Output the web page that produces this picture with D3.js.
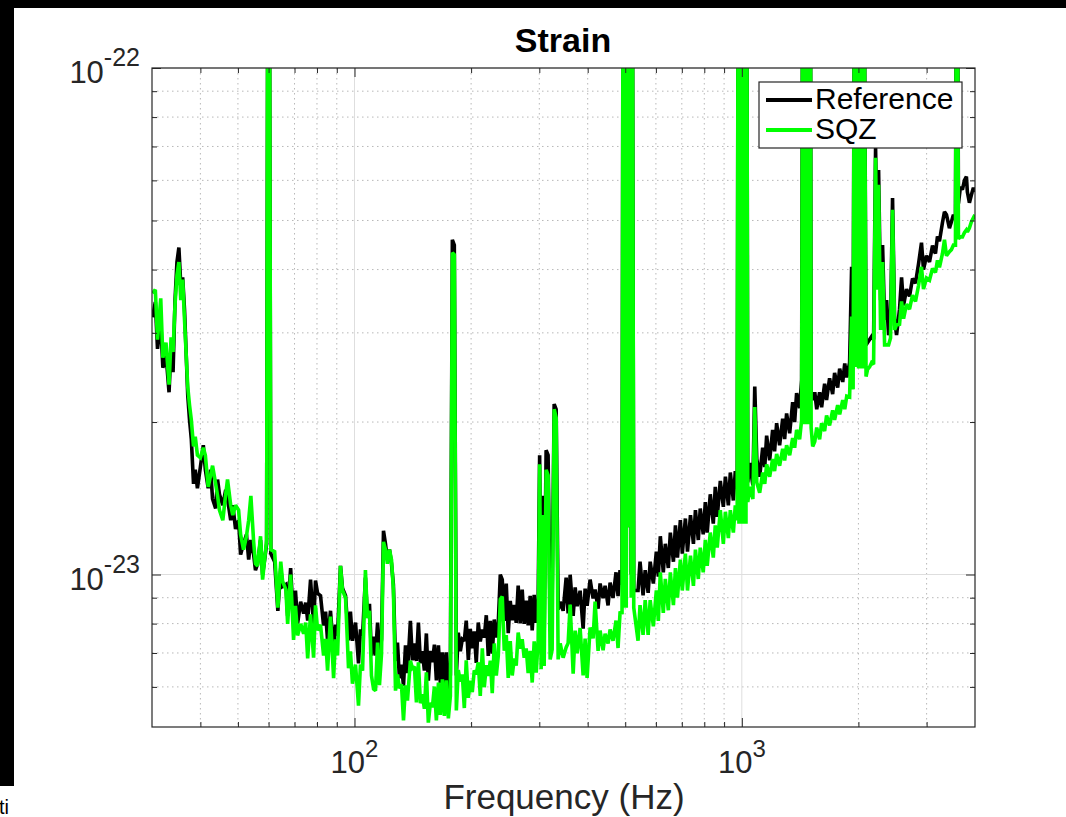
<!DOCTYPE html>
<html><head><meta charset="utf-8">
<script src="https://cdn.jsdelivr.net/npm/d3@7"></script>
<style>
body{margin:0;background:#fff}
svg{display:block}
text{font-family:"Liberation Sans",Arial,Helvetica,sans-serif}
</style>
</head><body>
<svg id="chart" width="1066" height="817"></svg>
<script>
// ---------------- DATA ----------------
// frequency in Hz
const freqHz = [
// 30-61 Hz (52)
30.1,30.6,31.0,31.6,32.0,32.6,33.2,33.6,34.0,34.4,34.8,35.2,35.6,36.0,36.4,37.1,37.5,37.9,38.4,38.8,39.3,40.0,40.7,41.2,41.9,42.5,43.0,43.8,44.3,44.8,45.7,46.5,47.0,47.9,48.5,49.3,50.2,50.8,51.7,52.6,53.3,54.0,54.9,55.5,56.2,57.2,57.9,58.6,59.3,59.8,60.2,60.8,
// 62-336 Hz (134)
62.2,63.4,64.5,65.2,66.5,67.2,68.4,69.6,70.4,71.3,
72.6,73.9,74.8,75.7,77.0,78.4,79.3,80.3,81.7,83.2,
84.2,85.2,86.7,88.3,89.3,90.4,92.0,93.1,94.8,96.5,
97.6,98.8,100.6,102.4,103.6,104.9,106.7,108.0,109.3,110.6,
112.0,113.3,114.7,116.0,117.4,118.8,120.2,121.6,123.1,124.6,
126.0,127.6,129.1,130.6,132.2,133.8,135.4,137.0,139.4,141.1,
142.8,144.5,146.2,148.0,149.7,151.5,153.3,155.1,157.0,158.9,
160.8,162.7,164.7,166.6,168.6,170.6,172.6,174.7,176.8,178.9,
181.0,183.2,185.3,187.6,189.8,192.1,194.3,196.7,199.0,201.4,
203.8,206.2,208.7,211.2,213.8,216.3,218.9,221.5,224.2,226.8,
229.5,232.3,235.1,237.9,240.7,243.6,246.5,249.4,252.4,255.4,
258.5,261.5,264.6,267.8,271.0,274.2,277.5,280.8,284.2,287.6,
291.0,294.5,298.0,300.6,303.3,306.0,308.8,312.4,316.1,320.0,
323.8,327.7,331.6,335.6,
// 340-491 Hz (26)
339.6,345.7,351.9,356.1,360.4,366.9,371.3,375.7,382.4,389.3,393.9,398.6,405.8,413.1,418.0,425.5,430.6,438.3,443.6,451.5,457.0,465.0,473.4,479.1,484.8,490.6,
// violin modes ~500 Hz (10)
494,497,500,503,506,510,515,518,521,526,
// 540-973 Hz (41)
539.6,546,556,563,573,580,591,601.6,608.7,616,627,634.6,646,653.8,665.9,673.9,682,694,702,715,724,737,750,759,772,781,795,805,814,829,844,854,864,880,896,907,923,934,951,962,973,
// ~1 kHz lines (13)
979,983,987,991,995,999,1003,1008,1012,1016,1020,1025,1029,
// 1036-1427 Hz (23)
1036,1048,1068,1080,1093,1112,1132,1146,1159,1180,1201,1215,1230,1252,1275,1290,1305,1329,1353,1369,1385,1410,1427,
// ~1.47 kHz lines (11)
1438,1446,1454,1462,1470,1478,1486,1494,1502,1510,1524,
// 1543-1938 Hz (17)
1543,1561,1588,1607,1636,1655,1685,1716,1736,1768,1789,1822,1844,1866,1898,1921,1938,
// ~2 kHz lines (14)
1958,1966,1974,1982,1990,2002,2014,2022,2030,2038,2046,2054,2062,2093,
// 2112-3998 Hz (50)
2112,2138,2163,2189,2215,2235,2255,2282,2309,2337,
2365,2393,2421,2450,2480,2509,2554,2585,2616,2662,
2710,2759,2808,2859,2910,2945,2998,3052,3107,3162,
3200,3238,3296,3336,3376,3436,3477,3519,3561,3593,
3625,3668,3712,3756,3801,3823,3869,3916,3962,3998
];

// strain ASD, in units of 1e-24 /sqrt(Hz)  (300 = line far above the plot)
const refStrain = [
32.2,34.5,27.9,31.5,25.6,27.2,22.9,28.2,25.1,34.8,41.4,44.2,37.3,38.6,33.3,22.6,20.2,18.5,15.1,16.1,14.8,16.3,18.0,16.1,14.8,16.1,14.1,13.5,15.4,14.4,13.7,14.7,14.1,12.8,13.7,12.3,12.8,10.95,11.5,12.0,10.7,11.7,10.95,10.2,10.5,11.7,10.0,10.7,11.5,300,300,11.0,
10.6,8.48,10.3,9.47,9.56,8.29,10.3,8.02,9.29,8.0,
8.84,8.37,8.80,8.11,9.77,7.92,9.73,9.18,9.08,7.93,
8.45,7.40,8.48,6.99,7.96,7.57,10.4,9.4,9.08,7.41,
8.45,7.40,8.04,6.68,7.79,7.57,9.86,8.21,8.75,6.92,
7.54,6.92,8.04,6.88,7.45,12.2,11.5,10.7,11.2,10.5,
9.55,6.75,7.34,6.24,6.64,6.03,7.25,6.39,8.10,6.77,
7.31,6.75,8.04,6.68,7.06,6.46,7.65,6.17,7.07,6.71,
7.27,6.18,7.25,6.10,7.02,5.96,7.02,5.71,6.34,45.8,
44.7,6.32,7.68,7.06,7.45,7.40,8.11,6.78,7.81,7.15,
7.72,6.69,8.04,7.38,7.79,7.51,8.31,6.91,8.10,6.98,
8.15,7.51,8.04,10.0,9.77,8.10,9.60,7.66,8.87,8.12,
8.71,8.03,9.51,8.01,9.34,7.99,8.88,7.94,9.08,7.76,
9.12,8.03,8.93,17.2,7.4,14.3,7.6,17.6,17.2,8.15,
8.93,21.7,21.2,8.53,
8.83,8.48,9.86,8.38,9.99,8.29,9.43,8.66,9.29,7.82,9.38,8.67,9.77,8.97,9.34,8.56,9.60,8.98,9.50,8.69,9.64,8.99,10.1,9.07,10.2,9.55,
300,9.8,300,9.8,300,12.4,300,10.0,300,9.3,
9.3,10.6,9.1,10.2,9.2,10.6,9.6,11.1,9.9,11.9,10.1,11.5,10.3,12.1,10.6,12.5,10.8,12.8,11.0,12.9,11.1,13.1,11.5,13.4,11.7,13.5,12.0,13.9,12.1,14.4,12.6,14.9,13.0,15.3,13.6,15.6,13.7,15.9,14.0,16.0,14.8,
300,14.6,300,14.6,300,14.6,300,14.6,300,14.6,300,14.6,300,
15.2,16.6,15.0,23.5,16.9,15.6,17.8,16.3,18.8,16.8,19.3,17.5,19.9,18.0,20.3,18.5,20.8,19.0,21.9,20.0,22.8,21.3,24.2,
300,23.5,300,23.5,300,23.5,300,23.5,300,23.0,22.1,
22.9,21.2,22.9,21.4,23.8,22.1,24.4,22.7,25.0,23.4,25.5,24.0,26.1,24.5,26.2,40.5,27.8,
300,29.5,300,29.5,300,29.0,300,29.0,300,29.0,300,29.0,300,28.4,
28.7,29.1,29.5,29.1,69.6,43.8,62.9,34.8,44.7,31.8,
34.8,29.7,31.1,55.4,31.8,29.7,33.4,38.6,34.0,36.6,
35.4,38.4,37.6,41.0,45.2,40.0,42.6,41.4,44.6,43.0,
46.5,45.5,49.5,52.0,51.3,48.3,49.7,51.3,50.2,300,
54.0,58.2,57.5,60.0,61.0,56.9,54.2,56.2,58.0,56.9
];

const sqzStrain = [
35.9,36.5,29.1,35.1,26.8,28.7,23.7,29.4,27.5,34.1,39.0,41.4,34.8,38.2,31.8,23.5,21.6,20.2,17.9,18.7,17.2,17.0,17.8,17.2,14.9,15.7,16.4,15.1,14.3,13.4,12.8,14.4,15.4,13.7,13.1,13.7,13.4,12.0,11.2,11.9,12.8,14.3,11.6,10.5,10.4,11.9,9.77,10.7,11.7,300,300,11.2,
11.1,8.60,10.6,9.70,9.34,7.99,10.0,7.43,8.67,7.58,
7.99,7.64,8.04,6.83,8.34,6.85,8.69,7.76,7.96,6.92,
7.46,6.46,8.26,6.24,7.45,6.92,10.4,9.31,9.0,6.53,
7.05,6.09,6.64,5.51,6.64,6.46,10.2,8.21,8.48,6.32,
5.94,5.90,7.34,6.05,6.96,11.6,11.2,10.5,11.2,10.7,
9.34,5.90,6.35,5.96,6.07,5.15,6.04,5.64,6.76,6.53,
6.58,5.59,6.71,5.57,5.80,5.43,6.41,5.1,5.58,5.47,
6.01,5.15,6.12,5.28,6.21,5.26,6.18,5.2,5.76,43.2,
42.8,5.39,6.48,6.15,6.35,5.45,6.77,5.71,6.17,5.86,
6.47,6.35,6.71,5.76,7.15,5.99,6.62,6.31,6.76,5.83,
7.31,6.32,6.92,8.93,9.05,7.07,7.59,6.25,7.39,6.32,
6.83,6.61,7.68,7.14,7.45,6.85,7.15,6.39,7.07,6.12,
7.38,6.40,7.44,16.5,6.5,13.1,6.6,16.1,15.7,6.8,
7.11,21.2,20.4,6.8,
7.31,6.85,7.18,7.32,8.72,6.37,7.75,6.99,7.84,6.32,7.47,6.25,7.86,7.48,8.84,7.07,7.75,7.09,7.64,7.31,7.79,7.40,8.11,7.16,8.40,8.41,
300,8.6,300,8.6,300,12.4,300,9.0,300,8.6,
7.4,8.7,7.6,8.9,7.6,8.9,7.9,9.3,8.1,10.1,8.4,9.8,8.5,10.1,8.7,10.3,9.0,10.7,9.3,11.0,9.3,10.9,9.5,11.2,9.8,11.3,10.1,11.7,10.4,12.1,10.8,12.5,11.3,13.4,11.5,13.3,11.8,13.4,12.1,13.7,12.8,
300,12.6,300,12.6,300,12.6,300,12.6,300,12.6,300,12.6,300,
13.9,14.9,14.1,21.4,15.2,14.5,15.9,15.1,16.5,15.6,16.9,16.0,17.3,16.4,17.7,16.8,18.0,17.2,18.6,17.8,19.3,18.5,20.2,
300,19.8,300,19.8,300,19.8,300,19.8,300,19.5,17.9,
18.3,19.5,18.5,19.9,19.2,20.6,19.7,21.1,20.2,21.6,20.7,22.1,21.2,22.5,22.4,32.3,23.2,
300,25.7,300,25.7,300,25.5,300,25.5,300,25.5,300,25.5,300,24.6,
25.4,25.7,26.2,26.0,66.5,36.5,58.8,30.4,41.4,28.4,
28.4,28.4,29.3,52.5,30.4,31.1,31.2,34.6,32.0,34.2,
33.4,35.6,34.6,37.2,40.5,36.6,38.5,38.1,40.2,39.5,
41.7,40.4,43.0,45.8,42.6,43.4,43.8,44.7,44.7,300,
46.0,46.4,46.4,47.3,47.9,47.5,48.3,49.7,50.6,51.3
];

const STRAIN_UNIT = 1e-24;
const seriesNames = ["Reference", "SQZ"];
const seriesColors = ["#000000", "#00ff00"];
const xDomain = [30, 4000];
const yDomain = [5e-24, 1e-22];
const xMajorTicks = [100, 1000];
const xTickLabels = [["10", "2"], ["10", "3"]];
const xMinorTicks = [40, 50, 60, 70, 80, 90, 200, 300, 400, 500, 600, 700, 800, 900, 2000, 3000];
const yMajorTicks = [1e-23, 1e-22];
const yTickLabels = [["10", "-23"], ["10", "-22"]];
const yMinorTicks = [6e-24, 7e-24, 8e-24, 9e-24, 2e-23, 3e-23, 4e-23, 5e-23, 6e-23, 7e-23, 8e-23, 9e-23];
const titleText = "Strain";
const xLabelText = "Frequency (Hz)";

// ---------------- DRAW ----------------
const svg = d3.select("#chart");
const W = 1066, H = 817;
const L = 152, R = 975, T = 68, B = 727;
const axisColor = "#262626";

svg.append("rect").attr("width", W).attr("height", H).attr("fill", "#fff");

const x = d3.scaleLog().domain(xDomain).range([L, R]);
const y = d3.scaleLog().domain(yDomain).range([B, T]);

// grid
const grid = svg.append("g");
grid.selectAll(".gxm").data(xMinorTicks).join("line")
  .attr("x1", d => x(d)).attr("x2", d => x(d)).attr("y1", T).attr("y2", B)
  .attr("stroke", "#b8b8b8").attr("stroke-width", 1).attr("stroke-dasharray", "1.5,3.5");
grid.selectAll(".gym").data(yMinorTicks).join("line")
  .attr("y1", d => y(d)).attr("y2", d => y(d)).attr("x1", L).attr("x2", R)
  .attr("stroke", "#b8b8b8").attr("stroke-width", 1).attr("stroke-dasharray", "1.5,3.5");
grid.selectAll(".gxM").data(xMajorTicks).join("line")
  .attr("x1", d => x(d)).attr("x2", d => x(d)).attr("y1", T).attr("y2", B)
  .attr("stroke", "#dedede").attr("stroke-width", 1);
grid.selectAll(".gyM").data(yMajorTicks).join("line")
  .attr("y1", d => y(d)).attr("y2", d => y(d)).attr("x1", L).attr("x2", R)
  .attr("stroke", "#dedede").attr("stroke-width", 1);

// data lines
svg.append("defs").append("clipPath").attr("id", "plotclip")
  .append("rect").attr("x", L).attr("y", T).attr("width", R - L).attr("height", B - T);

const seriesData = [refStrain, sqzStrain].map(vals =>
  freqHz.map((f, i) => ({ f: f, v: vals[i] * STRAIN_UNIT }))
        .filter(d => d.v > 0 && isFinite(d.v)));

const line = d3.line().x(d => x(d.f)).y(d => y(d.v));
const plot = svg.append("g").attr("clip-path", "url(#plotclip)");
seriesData.forEach((data, i) => {
  plot.append("path").datum(data)
    .attr("d", line).attr("fill", "none")
    .attr("stroke", seriesColors[i]).attr("stroke-width", 3.6)
    .attr("stroke-linejoin", "miter").attr("stroke-miterlimit", 2);
});

// ticks (inward) with d3 axes
function styleAxis(g) {
  g.select(".domain").remove();
  g.selectAll("line").attr("stroke", axisColor);
  g.selectAll("text").remove();
}
svg.append("g").attr("transform", `translate(0,${B})`)
  .call(d3.axisBottom(x).tickValues(xMajorTicks).tickSize(-9).tickFormat("")).call(styleAxis);
svg.append("g").attr("transform", `translate(0,${B})`)
  .call(d3.axisBottom(x).tickValues(xMinorTicks).tickSize(-5).tickFormat("")).call(styleAxis);
svg.append("g").attr("transform", `translate(0,${T})`)
  .call(d3.axisTop(x).tickValues(xMajorTicks).tickSize(-9).tickFormat("")).call(styleAxis);
svg.append("g").attr("transform", `translate(0,${T})`)
  .call(d3.axisTop(x).tickValues(xMinorTicks).tickSize(-5).tickFormat("")).call(styleAxis);
svg.append("g").attr("transform", `translate(${L},0)`)
  .call(d3.axisLeft(y).tickValues(yMajorTicks).tickSize(-9).tickFormat("")).call(styleAxis);
svg.append("g").attr("transform", `translate(${L},0)`)
  .call(d3.axisLeft(y).tickValues(yMinorTicks).tickSize(-5).tickFormat("")).call(styleAxis);
svg.append("g").attr("transform", `translate(${R},0)`)
  .call(d3.axisRight(y).tickValues(yMajorTicks).tickSize(-9).tickFormat("")).call(styleAxis);
svg.append("g").attr("transform", `translate(${R},0)`)
  .call(d3.axisRight(y).tickValues(yMinorTicks).tickSize(-5).tickFormat("")).call(styleAxis);

// box
svg.append("rect").attr("x", L).attr("y", T).attr("width", R - L).attr("height", B - T)
  .attr("fill", "none").attr("stroke", axisColor).attr("stroke-width", 1.2);

// tick labels
xMajorTicks.forEach((v, i) => {
  const t = svg.append("text").attr("x", x(v)).attr("y", B + 46)
    .attr("text-anchor", "middle").attr("fill", axisColor).attr("font-size", 31);
  t.append("tspan").text(xTickLabels[i][0]);
  t.append("tspan").attr("dy", -16).attr("font-size", 24).text(xTickLabels[i][1]);
});
yMajorTicks.forEach((v, i) => {
  const t = svg.append("text").attr("x", L - 12).attr("y", y(v) + 15)
    .attr("text-anchor", "end").attr("fill", axisColor).attr("font-size", 31);
  t.append("tspan").text(yTickLabels[i][0]);
  t.append("tspan").attr("dy", -17).attr("font-size", 25).text(yTickLabels[i][1]);
});

// title & axis label
svg.append("text").attr("x", 563).attr("y", 52).attr("text-anchor", "middle")
  .attr("font-weight", "bold").attr("font-size", 34).attr("fill", "#000").text(titleText);
svg.append("text").attr("x", 564).attr("y", 809).attr("text-anchor", "middle")
  .attr("font-size", 35).attr("fill", axisColor).text(xLabelText);

// legend
const lg = svg.append("g");
lg.append("rect").attr("x", 759).attr("y", 82).attr("width", 203).attr("height", 66)
  .attr("fill", "#fff").attr("stroke", axisColor).attr("stroke-width", 1.2);
seriesNames.forEach((name, i) => {
  const yy = 100 + i * 30;
  lg.append("line").attr("x1", 766).attr("x2", 812).attr("y1", yy).attr("y2", yy)
    .attr("stroke", seriesColors[i]).attr("stroke-width", 4);
  lg.append("text").attr("x", 815).attr("y", yy + 9).attr("font-size", 30)
    .attr("fill", "#000").text(name);
});

// frame remnants of the figure window
svg.append("rect").attr("x", 0).attr("y", 0).attr("width", W).attr("height", 8).attr("fill", "#000");
svg.append("rect").attr("x", 0).attr("y", 0).attr("width", 14).attr("height", 786).attr("fill", "#000");
svg.append("text").attr("x", -1).attr("y", 814).attr("font-size", 20).attr("fill", "#000").text("ti");
</script>
</body></html>
